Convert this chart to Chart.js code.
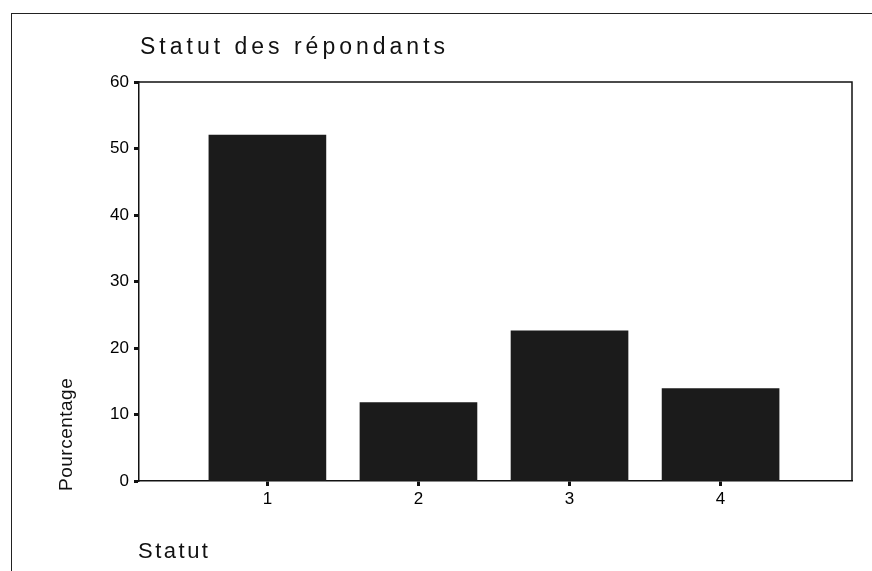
<!DOCTYPE html>
<html>
<head>
<meta charset="utf-8">
<script src="https://cdn.jsdelivr.net/npm/chart.js@4"></script>
<style>
  html, body { margin: 0; padding: 0; background: #fff; }
  #wrap { width: 872px; height: 571px; }
</style>
</head>
<body>
<div id="wrap"><canvas id="chart" width="872" height="571"></canvas></div>
<script>
var categories = [1, 2, 3, 4];
var percentages = [52.0, 11.8, 22.6, 13.9];
var yTicks = [0, 10, 20, 30, 40, 50, 60];

var chartTitle = 'Statut des répondants';
var xTitle = 'Statut';
var yTitle = 'Pourcentage';

var font = '"Liberation Sans", Arial, sans-serif';

// frame, titles, box round the plot
var decor = {
  id: 'decor',
  beforeDraw: function (c) {
    var ctx = c.ctx;
    ctx.save();
    ctx.strokeStyle = '#222';
    ctx.lineWidth = 1;
    ctx.strokeRect(11.5, 13.5, 1000, 1000);
    ctx.restore();
  },
  afterDraw: function (c) {
    var ctx = c.ctx;
    var a = c.chartArea;
    ctx.save();
    ctx.strokeStyle = '#111';
    ctx.lineWidth = 1.5;
    ctx.beginPath();
    ctx.moveTo(a.left, a.top);
    ctx.lineTo(a.right, a.top);
    ctx.lineTo(a.right, a.bottom);
    ctx.stroke();

    ctx.fillStyle = '#111';
    ctx.textBaseline = 'middle';
    ctx.textAlign = 'left';
    ctx.font = '23px ' + font;
    ctx.letterSpacing = '4px';
    ctx.fillText(chartTitle, 140, 48);

    ctx.font = '22px ' + font;
    ctx.letterSpacing = '2.5px';
    ctx.fillText(xTitle, 138, 552);

    ctx.letterSpacing = '0.5px';
    ctx.font = '19px ' + font;
    ctx.translate(67, 491);
    ctx.rotate(-Math.PI / 2);
    ctx.fillText(yTitle, 0, 0);
    ctx.restore();
  }
};

var chart = new Chart(document.getElementById('chart'), {
  type: 'bar',
  data: {
    datasets: [{
      data: categories.map(function (c, i) { return { x: c, y: percentages[i] }; }),
      backgroundColor: '#1b1b1b',
      borderWidth: 0,
      barThickness: 117
    }]
  },
  options: {
    responsive: false,
    animation: false,
    layout: {
      padding: { left: 0, top: 82, right: 20, bottom: 0 }
    },
    plugins: {
      legend: { display: false },
      tooltip: { enabled: false }
    },
    scales: {
      x: {
        type: 'linear',
        offset: false,
        min: 0.15,
        max: 4.87,
        afterBuildTicks: function (s) {
          s.ticks = categories.map(function (v) { return { value: v }; });
        },
        afterFit: function (s) { s.height = 90; },
        grid: {
          display: true,
          offset: false,
          drawOnChartArea: false,
          drawTicks: true,
          tickLength: 5,
          tickWidth: 3,
          color: '#111'
        },
        border: { display: true, color: '#111', width: 1.5 },
        ticks: {
          color: '#000',
          padding: 3,
          font: { family: font, size: 17 }
        }
      },
      y: {
        min: 0,
        max: 60,
        afterBuildTicks: function (s) {
          s.ticks = yTicks.map(function (v) { return { value: v }; });
        },
        afterFit: function (s) { s.width = 139; },
        grid: {
          display: true,
          drawOnChartArea: false,
          drawTicks: true,
          tickLength: 5,
          tickWidth: 3,
          color: '#111'
        },
        border: { display: true, color: '#111', width: 1.5 },
        ticks: {
          color: '#000',
          padding: 5,
          font: { family: font, size: 17 }
        }
      }
    }
  },
  plugins: [decor]
});
</script>
</body>
</html>
